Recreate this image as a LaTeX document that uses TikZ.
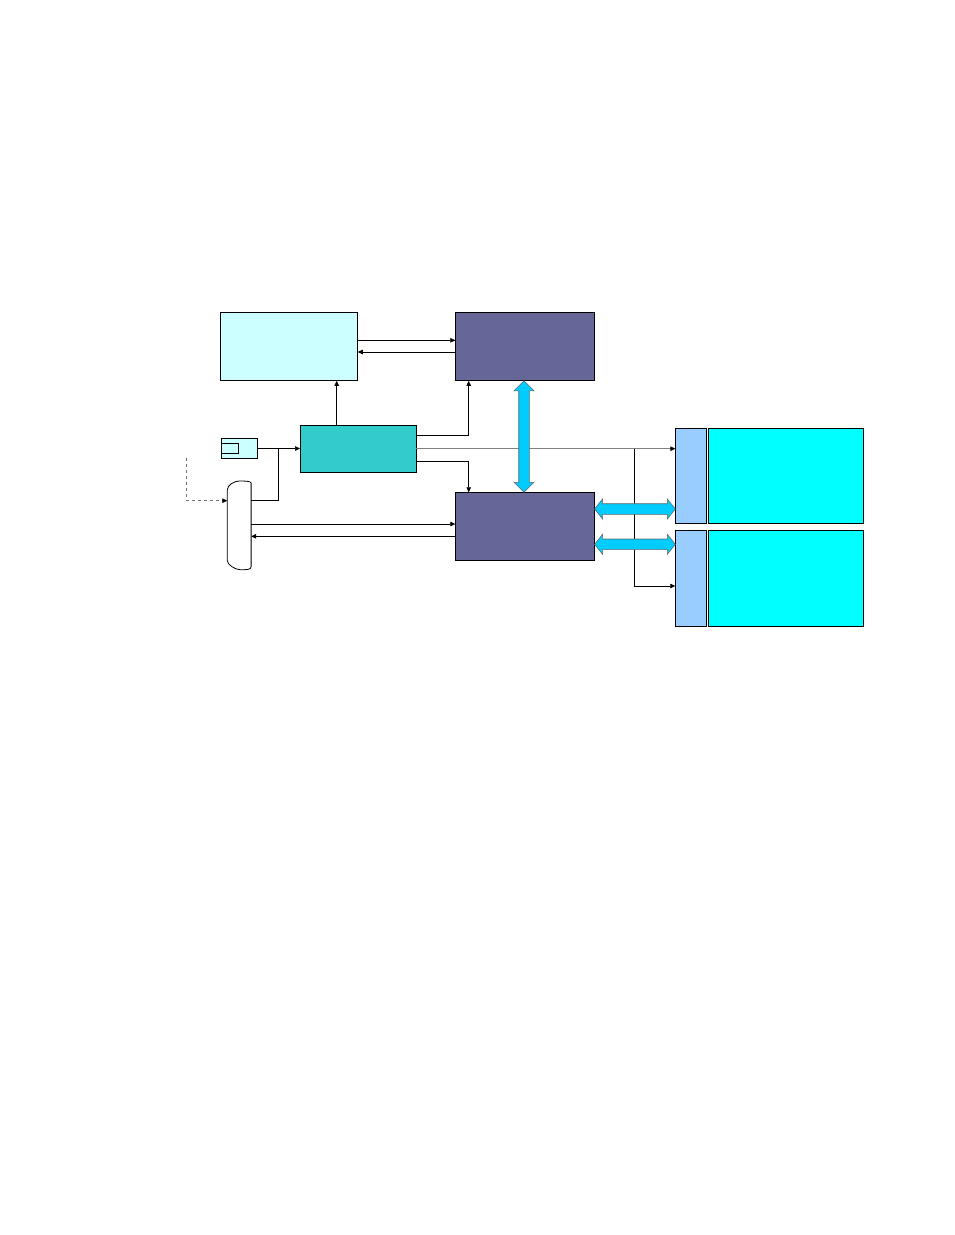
\documentclass[tikz,border=0pt]{standalone}
\usetikzlibrary{arrows.meta,calc}
\definecolor{lightcyan}{HTML}{CCFFFF}
\definecolor{slate}{HTML}{666699}
\definecolor{teal2}{HTML}{33CCCC}
\definecolor{paleblue}{HTML}{99CCFF}
\definecolor{aqua}{HTML}{00FFFF}
\definecolor{busblue}{HTML}{00CCFF}
\begin{document}
\begin{tikzpicture}[x=1pt,y=-1pt,
  blk/.style={draw=black,line width=0.8pt,inner sep=0pt,anchor=north west},
  wire/.style={draw=black,line width=0.6pt},
  gwire/.style={draw=black!50,line width=1pt},
  tip/.style={-{Triangle[length=5pt,width=4.5pt]}},
  btip/.style={-{Triangle[length=5pt,width=4.5pt,color=black]}},
  bus/.style={fill=busblue,draw=black!60,line width=0.6pt,line join=miter}
]
\useasboundingbox (0,0) rectangle (954,1235);
% boxes
\node[blk,fill=lightcyan,minimum width=137pt,minimum height=68pt] (A) at (220,312) {};
\node[blk,fill=slate,minimum width=138.5pt,minimum height=68pt] (B) at (455.3,312) {};
\node[blk,fill=teal2,minimum width=115.5pt,minimum height=47pt] (C) at (300,425.3) {};
\node[blk,fill=slate,minimum width=138.5pt,minimum height=68pt] (D) at (455.3,492.3) {};
\node[blk,fill=lightcyan,minimum width=35.7pt,minimum height=20pt] (E) at (221,438.3) {};
\node[blk,minimum width=16.5pt,minimum height=10pt] (Ein) at (221,443.3) {};
\node[inner sep=0pt,anchor=north west,minimum width=23.4pt,minimum height=88.3pt] (F) at (227.3,481) {};
\draw[line width=0.8pt,fill=white]
  (F.north east) ++(0,2) -- ($(F.south east)+(0,-3)$)
  .. controls ($(F.south east)+(0,0)$) and ($(F.south east)+(-4,0)$) .. ($(F.south)+(1,0)$)
  .. controls ($(F.south)+(-4,0)$) and ($(F.south west)+(0,-5)$) .. ($(F.south west)+(0,-9)$)
  -- ($(F.north west)+(0,9)$)
  .. controls ($(F.north west)+(0,4)$) and ($(F.north)+(-5,0)$) .. ($(F.north)+(0,0)$)
  .. controls ($(F.north)+(5,0)$) and ($(F.north east)+(0,0)$) .. ($(F.north east)+(0,2)$) -- cycle;
\node[blk,fill=paleblue,minimum width=31pt,minimum height=95pt] (G1) at (675.3,428.3) {};
\node[blk,fill=aqua,minimum width=155pt,minimum height=95pt] (H1) at (708.3,428.3) {};
\node[blk,fill=paleblue,minimum width=31pt,minimum height=95.7pt] (G2) at (675.3,530.3) {};
\node[blk,fill=aqua,minimum width=155pt,minimum height=95.7pt] (H2) at (708.3,530.3) {};
% coordinates
\coordinate (j1) at (278.3,448.5);
\coordinate (j2) at (634.3,448.7);
\coordinate (ds) at (186.7,457.7);
% wires
\draw[wire,tip] (A.east |- 0,340.3) -- (B.west |- 0,340.3);
\draw[wire,tip] (B.west |- 0,352) -- (A.east |- 0,352);
\draw[wire,tip] (C.north -| 336.7,0) -- (A.south -| 336.7,0);
\draw[wire,tip] (C.east |- 0,435.3) -| (B.south -| 468.7,0);
\draw[wire,tip] (C.east |- 0,461.3) -| (D.north -| 468.7,0);
\draw[gwire,btip] (C.east |- 0,448.7) -- (G1.west |- 0,448.7);
\draw[wire,tip] (j2) |- (G2.west |- 0,586);
\draw[wire,tip] (E.east |- 0,448.5) -- (C.west |- 0,448.5);
\draw[wire] (j1) |- (F.east |- 0,500.3);
\draw[wire,draw=black!55,dashed,btip] (ds) |- (F.west |- 0,500.7);
\draw[wire,tip] (F.east |- 0,524) -- (D.west |- 0,524);
\draw[wire,tip] (D.west |- 0,536.3) -- (F.east |- 0,536.3);
% buses
\draw[bus] (B.south -| 524,0) -- ++(10,10) -- ++(-4.7,0) -- ($(D.north -| 524,0)+(5.3,-10)$) -- ++(4.7,0)
  -- (D.north -| 524,0) -- ++(-10,-10) -- ++(4.7,0) -- ($(B.south -| 524,0)+(-5.3,10)$) -- ++(-4.7,0) -- cycle;
\foreach \yy/\g in {509/G1,544.3/G2}{
  \draw[bus] (D.east |- 0,\yy) -- ++(8,-10) -- ++(0,4.7) -- ($(\g.west |- 0,\yy)+(-8,-5.3)$) -- ++(0,-4.7)
    -- (\g.west |- 0,\yy) -- ++(-8,10) -- ++(0,-4.7) -- ($(D.east |- 0,\yy)+(8,5.3)$) -- ++(0,4.7) -- cycle;
}
\end{tikzpicture}
\end{document}
